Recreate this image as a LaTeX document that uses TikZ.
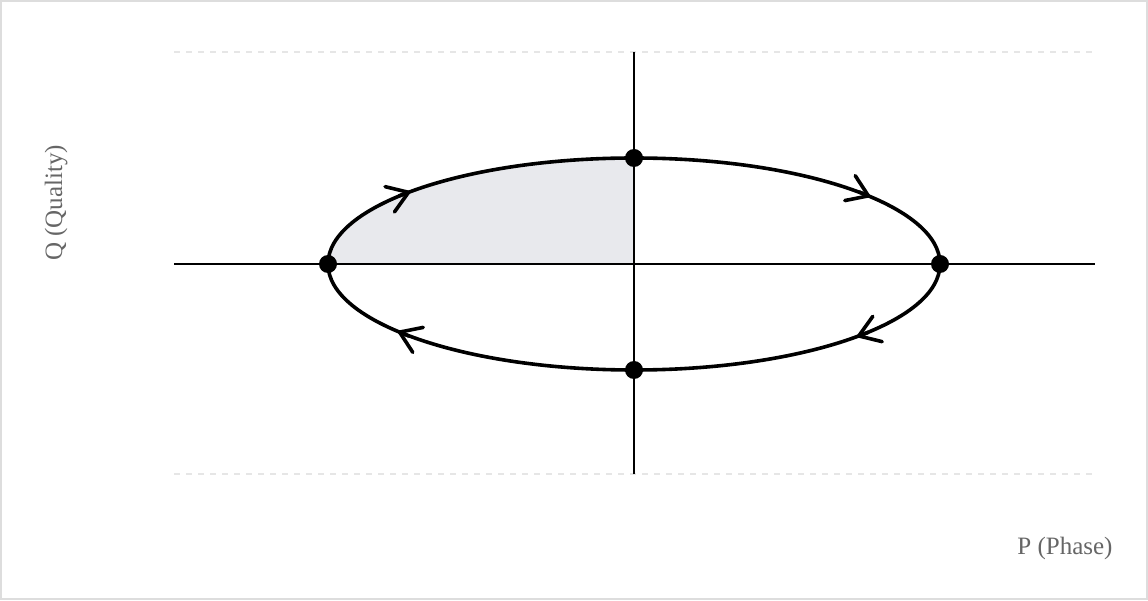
\documentclass[tikz,border=0pt]{standalone}
\usepackage{fontspec}
\setmainfont{Liberation Serif}
\usetikzlibrary{arrows.meta}
\definecolor{quadfill}{HTML}{E8E9ED}
\definecolor{lbl}{HTML}{666666}
\definecolor{gridcol}{HTML}{E6E6E6}
\definecolor{framecol}{HTML}{DDDDDD}
\tikzset{
  axis/.style={line width=2.2pt, black},
  gridline/.style={line width=1.5pt, gridcol, dash pattern=on 6pt off 6pt},
  orbit/.style={line width=3.6pt, black},
  dot/.style={circle, fill=black, inner sep=0pt, minimum size=18pt},
  lab/.style={text=lbl, font=\fontsize{25}{30}\selectfont, inner sep=0pt},
  barb/.style={line width=3.6pt, line cap=round, -{Straight Barb[length=20pt,width=27pt,round]}},
}
\begin{document}
\begin{tikzpicture}[x=1pt,y=1pt]
\useasboundingbox (0,0) rectangle (1148,600);
\draw[framecol, line width=2pt] (1,1) rectangle (1147,599);
% grid dashed lines
\coordinate (gtl) at (174,548);
\coordinate (gtr) at (1092,548);
\coordinate (gbl) at (174,126);
\coordinate (gbr) at (1092,126);
\draw[gridline] (gtl) -- (gtr);
\draw[gridline] (gbl) -- (gbr);
% centre
\coordinate (c) at (634,336);
% shaded quadrant
\fill[quadfill] (c) -- (328,336) arc[start angle=180, end angle=90, x radius=306, y radius=106] -- cycle;
% axes
\coordinate (xl) at (174,336);
\coordinate (xr) at (1095,336);
\coordinate (yt) at (634,548);
\coordinate (yb) at (634,126);
\draw[axis] (xl) -- (xr);
\draw[axis] (yb) -- (yt);
% ellipse
\draw[orbit] (c) ellipse[x radius=306, y radius=106];
% arrows on the ellipse (clockwise)
\path (c) ++(137:306 and 106) coordinate (t1);
\path (c) ++(39.5:306 and 106) coordinate (t2);
\path (c) ++(-43.2:306 and 106) coordinate (t3);
\path (c) ++(219.5:306 and 106) coordinate (t4);
\draw[barb] (t1) ++(200.4:12) coordinate (s1) (s1) -- (t1);
\draw[barb] (t2) ++(157.2:12) coordinate (s2) (s2) -- (t2);
\draw[barb] (t3) ++(20.3:12) coordinate (s3) (s3) -- (t3);
\draw[barb] (t4) ++(-22.8:12) coordinate (s4) (s4) -- (t4);
% dots
\node[dot] (top) at (634,442) {};
\node[dot] (bot) at (634,230) {};
\node[dot] (lft) at (328,336) {};
\node[dot] (rgt) at (940,336) {};
% labels
\node[lab, anchor=base, rotate=90] (qlab) at (62,397) {Q (Quality)};
\node[lab, anchor=base] (plab) at (1065,46) {P (Phase)};
\end{tikzpicture}
\end{document}
